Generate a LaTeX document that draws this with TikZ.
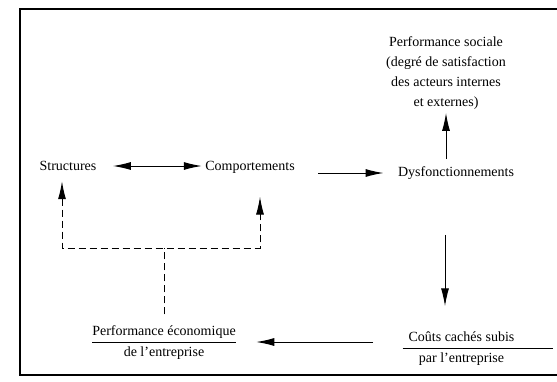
\documentclass[tikz,border=0pt]{standalone}
\usepackage{fontspec}
\setmainfont{Liberation Serif}
\usetikzlibrary{arrows.meta}
\tikzstyle{txt} = [font = \fontsize{14}{20}\selectfont, align = center]
\tikzstyle{arr} = [line width = 0.35mm, >={Latex[length = 18pt, width = 8pt]}]
\tikzstyle{dsh} = [line width = 0.35mm, dash pattern = on 7pt off 4pt]

\begin{document}
\begin{tikzpicture}[x = 1pt, y = -1pt]
            \useasboundingbox (0, 0) rectangle (557, 381);
            \draw [line width = 0.7mm] (557, 9) -- (20, 9) -- (20, 375) -- (557, 375);
            \node (S) at (68, 166) [txt] {Structures};
            \node (C) at (250, 167) [txt] {Comportements};
            \node (D) at (456, 173) [txt] {Dysfonctionnements};
            \node (P) at (446, 73) [txt] {Performance sociale\\(degré de satisfaction\\des acteurs internes\\et externes)};
            \node (E) at (164, 342) [txt] {\begin{tabular}{@{}c@{}}Performance économique\\\hline de l'entreprise\end{tabular}};
            \node (K) at (478, 348) [txt] {\begin{tabular}{@{\hspace{6pt}}c@{\hspace{39pt}}}Coûts cachés subis\\\hline par l'entreprise\end{tabular}};
            \coordinate (J) at (164, 248);
            \coordinate (JL) at (62, 248);
            \coordinate (JR) at (260, 248);
            \draw [<->, arr, shorten < = 13pt] (S.east) -- (S.east -| C.west);
            \draw [->, arr, shorten < = 20pt, shorten > = 11pt] (C.east |- D.west) -- (D.west);
            \draw [->, arr, shorten < = 4pt] (P.south |- D.north) -- (P.south);
            \draw [->, arr, shorten < = 52pt, shorten > = 18pt] ([xshift = -11pt]D.south) -- ([xshift = -11pt]D.south |- K.north);
            \draw [->, arr, shorten < = 26pt, shorten > = 17pt] (K.west |- E.east) -- (E.east);
            \draw [dsh, shorten < = 4pt] (E.north) -- (J);
            \draw [<->, arr, dsh, shorten < = 7pt, shorten > = 20pt] (JL |- S.south) -- (JL) -- (JR) -- (JR |- C.south);
        \end{tikzpicture}
\end{document}
